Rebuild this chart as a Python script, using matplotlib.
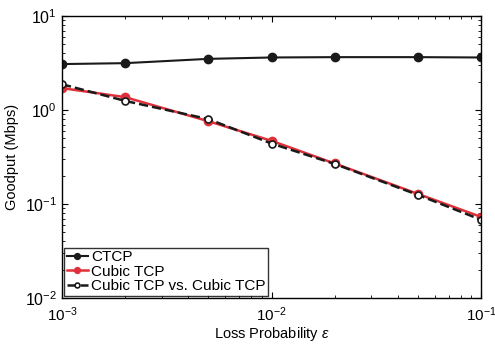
import numpy as np
import matplotlib.pyplot as plt

plt.rcParams['font.family'] = ['Liberation Sans', 'DejaVu Sans']
plt.rcParams['mathtext.fontset'] = 'custom'
plt.rcParams['mathtext.rm'] = 'Liberation Sans'
plt.rcParams['mathtext.it'] = 'Liberation Sans:italic'

# loss probabilities
loss = [0.001, 0.002, 0.005, 0.01, 0.02, 0.05, 0.1]
# goodput in Mbps
ctcp = [3.08, 3.15, 3.5, 3.62, 3.65, 3.65, 3.62]
cubic = [1.71, 1.37, 0.76, 0.47, 0.27, 0.128, 0.073]
cubic_vs_cubic = [1.88, 1.25, 0.80, 0.44, 0.267, 0.125, 0.068]

fig = plt.figure(figsize=(4.95, 3.44), dpi=100)
ax = fig.add_axes([62/495, 1-298/344, 419/495, 282/344])

ax.plot(loss, ctcp, '-o', color='#1a1a1a', lw=1.5, ms=6, label='CTCP')
ax.plot(loss, cubic, '-o', color='#e0303a', lw=1.8, ms=6, label='Cubic TCP')
ax.plot(loss, cubic_vs_cubic, '--o', color='#1a1a1a', lw=1.8, ms=5,
        mfc='white', mec='#1a1a1a', mew=1.2, label='Cubic TCP vs. Cubic TCP')

ax.set_xscale('log')
ax.set_yscale('log')
ax.set_xlim(1e-3, 1e-1)
ax.set_ylim(1e-2, 1e1)
ax.tick_params(which='both', direction='in', top=True, right=True, labelsize=11.5)
ax.tick_params(axis='x', which='major', pad=5, labelsize=11)
ax.tick_params(which='major', length=4)
ax.tick_params(which='minor', length=2)
for s in ax.spines.values():
    s.set_linewidth(1.0)

ax.set_xlabel(r'Loss Probability $\epsilon$', fontsize=10.5, labelpad=1)
ax.set_ylabel('Goodput (Mbps)', fontsize=10.5)

leg = ax.legend(loc='lower left', fontsize=11, frameon=True, fancybox=False,
                edgecolor='black', borderpad=0.15, labelspacing=0.05,
                handlelength=1.4, handletextpad=0.2, borderaxespad=0.15,
                markerscale=0.7)
leg.get_frame().set_linewidth(1.0)

fig.savefig('out.png', dpi=100)
